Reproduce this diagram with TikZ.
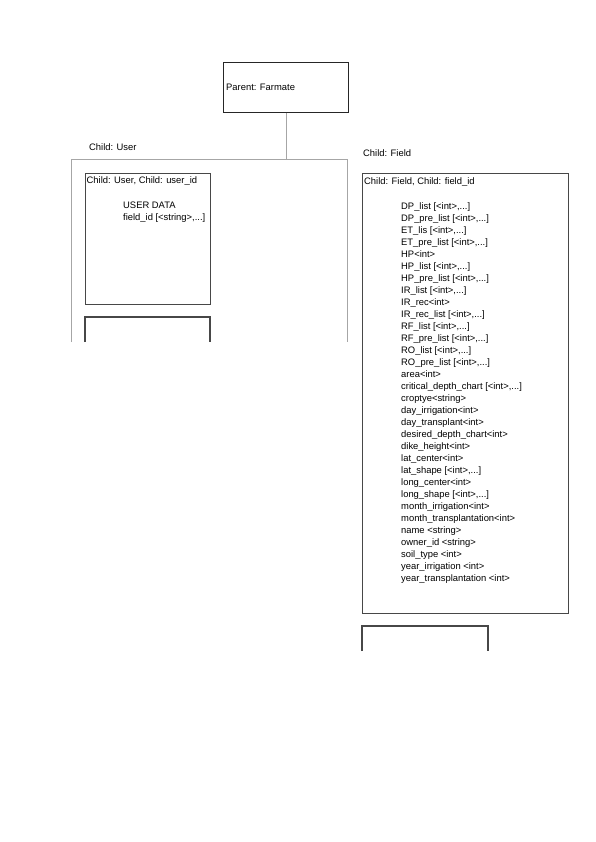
\documentclass[tikz,border=0pt]{standalone}
\usepackage{fontspec}
\setmainfont{Liberation Sans}
\usetikzlibrary{positioning}
\tikzset{
  boxline/.style={draw=black!72, line width=1.1pt},
  box/.style={boxline, inner sep=0pt, anchor=north west},
  frame/.style={draw=black!35, line width=0.7pt},
  txt/.style={inner sep=0pt, anchor=west, font=\fontsize{9.4}{12.03}\selectfont},
}
\begin{document}
\begin{tikzpicture}[x=1pt,y=-1pt]
	\useasboundingbox (0,0) rectangle (596,842);
	% parent
	\node[box, draw=black!85, line width=1pt, minimum width=125pt, minimum height=50pt] (parent) at (223,62) {};
	\node[txt, right=3pt of parent.west] (parenttxt) {Parent: Farmate};
	% user side
	\coordinate (usertl) at (71,159);
	\coordinate (usertr) at (347,159);
	\coordinate (userbl) at (71,342);
	\coordinate (userbr) at (347,342);
	\draw[frame] (userbl) -- (usertl) -- (usertr) -- (userbr);
	\draw[frame] (parent.south) -- (parent.south |- usertl);
	\node[txt] (usertitle) at (89,147) {Child: User};
	\node[box, minimum width=125pt, minimum height=131pt] (userid) at (85,173) {};
	\node[txt] (useridtxt) at (86.5,181) {Child: User, Child: user\_id};
	\node[txt, anchor=north west, align=left] (userdata) at (123,202)
		{USER DATA\\field\_id [<string>,...]};
	\draw[boxline] (85,342) |- (210,317) -- (210,342);
	% field side
	\node[txt] (fieldtitle) at (363,153) {Child: Field};
	\node[box, minimum width=206pt, minimum height=440pt] (field) at (362,173) {};
	\node[txt] (fieldidtxt) at (364,182) {Child: Field, Child: field\_id};
	\node[txt, anchor=north west, align=left] (fieldlist) at (401,202)
		{DP\_list [<int>,...]\\
		DP\_pre\_list [<int>,...]\\
		ET\_lis [<int>,...]\\
		ET\_pre\_list [<int>,...]\\
		HP<int>\\
		HP\_list [<int>,...]\\
		HP\_pre\_list [<int>,...]\\
		IR\_list [<int>,...]\\
		IR\_rec<int>\\
		IR\_rec\_list [<int>,...]\\
		RF\_list [<int>,...]\\
		RF\_pre\_list [<int>,...]\\
		RO\_list [<int>,...]\\
		RO\_pre\_list [<int>,...]\\
		area<int>\\
		critical\_depth\_chart [<int>,...]\\
		croptye<string>\\
		day\_irrigation<int>\\
		day\_transplant<int>\\
		desired\_depth\_chart<int>\\
		dike\_height<int>\\
		lat\_center<int>\\
		lat\_shape [<int>,...]\\
		long\_center<int>\\
		long\_shape [<int>,...]\\
		month\_irrigation<int>\\
		month\_transplantation<int>\\
		name <string>\\
		owner\_id <string>\\
		soil\_type <int>\\
		year\_irrigation <int>\\
		year\_transplantation <int>};
	\draw[boxline] (362,651) |- (488,626) -- (488,651);
\end{tikzpicture}
\end{document}
